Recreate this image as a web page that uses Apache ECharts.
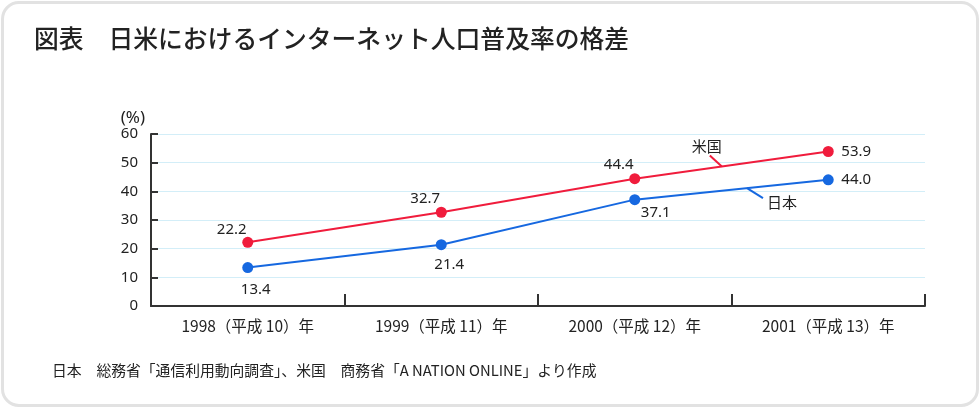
<!DOCTYPE html>
<html><head><meta charset="utf-8">
<script src="https://cdn.jsdelivr.net/npm/echarts@6/dist/echarts.min.js"></script>
<style>
html,body{margin:0;padding:0;background:#fff;}
#frame{position:absolute;left:1px;top:1px;width:972px;height:400px;border:3px solid #e2e2e2;border-radius:18px;background:#fff;}
#c{position:absolute;left:0;top:0;width:980px;height:408px;}
</style></head>
<body>
<div id="frame"></div>
<div id="c"></div>
<script>
const categories = ['1998（平成 10）年','1999（平成 11）年','2000（平成 12）年','2001（平成 13）年'];
const usValues = [22.2, 32.7, 44.4, 53.9];
const jpValues = [13.4, 21.4, 37.1, 44.0];
const yTicks = [0,10,20,30,40,50,60];
const seriesNames = ['米国','日本'];
const titleText = '図表　日米におけるインターネット人口普及率の格差';
const sourceText = '日本　総務省「通信利用動向調査」、米国　商務省「A NATION ONLINE」より作成';

const FONT = '"Noto Sans CJK JP","Noto Sans",sans-serif';
const NUMFONT = '"Noto Sans",sans-serif';
const RED = '#f01c3c', BLUE = '#1668e0';
const chart = echarts.init(document.getElementById('c'), null, {renderer:'canvas'});

const usLabelPos = [[-16,-13],[-16,-14],[-16,-14],[28,0]];
const jpLabelPos = [[8,22],[8,20],[21,13],[28,0]];

chart.setOption({
  backgroundColor:'transparent',
  animation:false,
  textStyle:{fontFamily:FONT},
  title:[
    {text:titleText,left:29,top:21,textStyle:{fontFamily:FONT,fontSize:24.8,fontWeight:500,color:'#222'}},
    {text:sourceText,left:47,top:358,textStyle:{fontFamily:FONT,fontSize:14.8,fontWeight:'normal',color:'#222'}}
  ],
  grid:{left:151,right:55,top:134,bottom:102},
  xAxis:{
    type:'category',data:categories,boundaryGap:true,
    axisLine:{lineStyle:{color:'#333',width:2}},
    axisTick:{show:true,inside:true,length:12,lineStyle:{color:'#333',width:2}},
    axisLabel:{color:'#222',fontSize:15.5,margin:12,fontFamily:FONT}
  },
  yAxis:{
    type:'value',min:0,max:60,interval:10,
    name:'(%)',nameLocation:'end',nameGap:4,
    nameTextStyle:{color:'#222',fontSize:17,align:'right',verticalAlign:'bottom',padding:[0,6,0,0],fontFamily:NUMFONT},
    axisLine:{show:true,lineStyle:{color:'#333',width:2}},
    axisTick:{show:true,inside:true,length:7,lineStyle:{color:'#333',width:2}},
    axisLabel:{color:'#222',fontSize:15,margin:13,fontFamily:NUMFONT,
      formatter:v=>yTicks.includes(v)?String(v):''},
    splitLine:{show:true,lineStyle:{color:'#d3eef8',width:1}}
  },
  series:[
    {name:seriesNames[0],type:'line',symbol:'circle',symbolSize:11,
     lineStyle:{color:RED,width:2},itemStyle:{color:RED},
     data:usValues.map((v,i)=>({value:v,label:{show:true,position:'inside',offset:usLabelPos[i],formatter:v.toFixed(1),color:'#222',fontSize:15,fontFamily:NUMFONT}}))},
    {name:seriesNames[1],type:'line',symbol:'circle',symbolSize:11,
     lineStyle:{color:BLUE,width:2},itemStyle:{color:BLUE},
     data:jpValues.map((v,i)=>({value:v,label:{show:true,position:'inside',offset:jpLabelPos[i],formatter:v.toFixed(1),color:'#222',fontSize:15,fontFamily:NUMFONT}}))}
  ]
});

// annotations anchored to the drawn line segments (interpolated between pixel points)
function segPoint(si, vals, t){
  const a = chart.convertToPixel({seriesIndex:si},[2, vals[2]]);
  const b = chart.convertToPixel({seriesIndex:si},[3, vals[3]]);
  return [a[0]+(b[0]-a[0])*t, a[1]+(b[1]-a[1])*t];
}
function place(){
  const u = segPoint(0, usValues, 0.45);
  const j = segPoint(1, jpValues, 0.58);
  chart.setOption({graphic:[
    {type:'line',shape:{x1:u[0]-12,y1:u[1]-11,x2:u[0],y2:u[1]},style:{stroke:RED,lineWidth:2}},
    {type:'text',x:u[0]-15,y:u[1]-20,style:{text:seriesNames[0],fill:'#222',font:'15px '+FONT,textAlign:'center',textVerticalAlign:'middle'}},
    {type:'line',shape:{x1:j[0],y1:j[1],x2:j[0]+16,y2:j[1]+10},style:{stroke:BLUE,lineWidth:2}},
    {type:'text',x:j[0]+35,y:j[1]+14,style:{text:seriesNames[1],fill:'#222',font:'15px '+FONT,textAlign:'center',textVerticalAlign:'middle'}}
  ]});
}
place();
</script>
</body></html>
